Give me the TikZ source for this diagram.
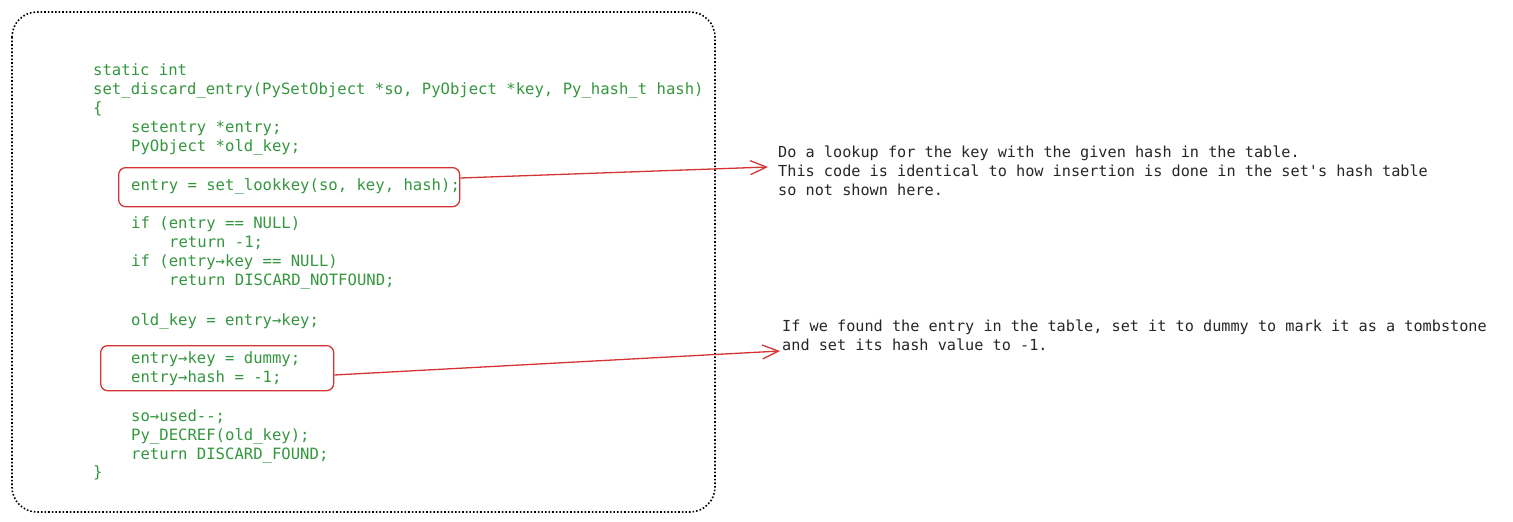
\documentclass[tikz,border=0pt]{standalone}
\usepackage{fontspec}
\setmonofont{DejaVu Sans Mono}
\usetikzlibrary{arrows.meta}
\definecolor{codegreen}{RGB}{52,150,62}
\definecolor{boxred}{RGB}{214,52,52}
\tikzset{
  codeline/.style={anchor=base west,inner sep=0pt,text=codegreen,font=\fontsize{15.6}{19}\ttfamily},
  note/.style={anchor=base west,inner sep=0pt,text=black!85,align=left,font=\fontsize{15.2}{19}\ttfamily},
  hl/.style={draw=boxred,line width=1.3pt,rounded corners=7pt},
  arr/.style={draw=boxred,line width=1.3pt,-{Straight Barb[length=16pt,width=14pt]}}
}
\begin{document}
\begin{tikzpicture}[x=1pt,y=-1pt]
\useasboundingbox (0,0) rectangle (1513,522);
\draw[dotted,line width=1.6pt,rounded corners=25pt] (12,12) rectangle (715,512);
\foreach \y/\x/\t in {
  75/93/{static int},
  94/93/{set\_discard\_entry(PySetObject *so, PyObject *key, Py\_hash\_t hash)},
  113/93/{\{},
  132/131/{setentry *entry;},
  151/131/{PyObject *old\_key;},
  190/131/{entry = set\_lookkey(so, key, hash);},
  228/131/{if (entry == NULL)},
  247/169/{return -1;},
  266/131/{if (entry→key == NULL)},
  285/169/{return DISCARD\_NOTFOUND;},
  325/131/{old\_key = entry→key;},
  363/131/{entry→key = dummy;},
  382/131/{entry→hash = -1;},
  421/131/{so→used--;},
  440/131/{Py\_DECREF(old\_key);},
  459/131/{return DISCARD\_FOUND;},
  477/93/{\}}}
  \node[codeline] at (\x,\y) {\t};
\node[hl,minimum width=341pt,minimum height=39pt,anchor=north west] (b1) at (118,167) {};
\node[hl,minimum width=233pt,minimum height=45pt,anchor=north west] (b2) at (100,345) {};
\node[note] (n1) at (778,195) {Do a lookup for the key with the given hash in the table.\\This code is identical to how insertion is done in the set's hash table\\so not shown here.};
\node[note] (n2) at (782,350) {If we found the entry in the table, set it to dummy to mark it as a tombstone\\and set its hash value to -1.};
\coordinate (a1) at (768,167);
\coordinate (a2) at (780,351);
\draw[arr] (b1.east|-0,178) -- (a1);
\draw[arr] (b2.east|-0,375) -- (a2);
\end{tikzpicture}
\end{document}
